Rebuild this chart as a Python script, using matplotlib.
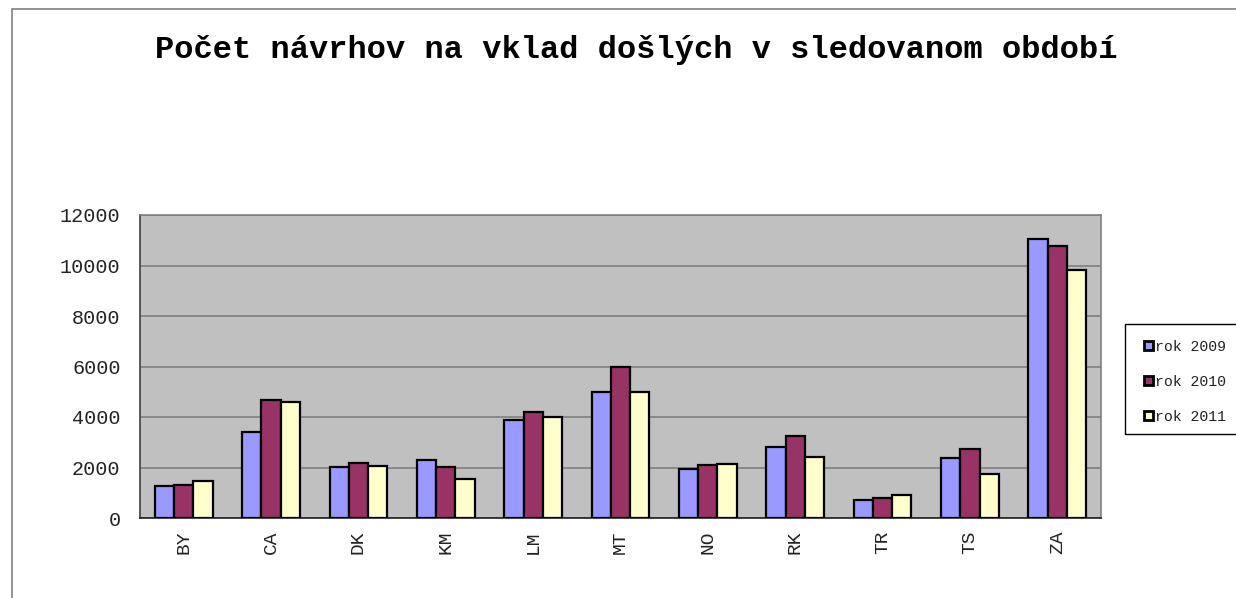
import matplotlib.pyplot as plt
import numpy as np
from matplotlib.patches import Rectangle, Patch

# Údaje z grafu
okresy = ['BY', 'CA', 'DK', 'KM', 'LM', 'MT', 'NO', 'RK', 'TR', 'TS', 'ZA']
rok_2009 = [1257, 3398, 2038, 2300, 3862, 4996, 1931, 2803, 702, 2395, 11063]
rok_2010 = [1297, 4655, 2169, 2010, 4203, 5963, 2117, 3251, 781, 2736, 10785]
rok_2011 = [1467, 4600, 2077, 1534, 4005, 4984, 2141, 2434, 900, 1760, 9810]
nazvy = ['rok 2009', 'rok 2010', 'rok 2011']
farby = ['#9999FF', '#993366', '#FFFFCC']

font = 'Liberation Mono'

fig = plt.figure(figsize=(12.36, 5.98), dpi=100)
fig.patch.set_facecolor('white')

# vonkajší rámik grafu
fig.patches.append(Rectangle((12 / 1236, -0.1), 1.2, 1 - 9 / 598 + 0.1,
                             transform=fig.transFigure, fill=False,
                             edgecolor='#808080', linewidth=1.2))

ax = fig.add_axes([140 / 1236, 1 - 518 / 598, 961 / 1236, 303 / 598])
ax.set_facecolor('#C0C0C0')

x = np.arange(len(okresy))
sirka = 0.22
for i, hodnoty in enumerate([rok_2009, rok_2010, rok_2011]):
    ax.bar(x + (i - 1) * sirka, hodnoty, sirka, color=farby[i],
           edgecolor='black', linewidth=1.6, zorder=3)

ax.set_xlim(-0.5, len(okresy) - 0.5)
ax.set_ylim(0, 12000)
ax.set_yticks(range(0, 12001, 2000))
ax.yaxis.grid(True, color='#808080', linewidth=1.2, zorder=1)
ax.set_axisbelow(True)
ax.set_xticks(x)
ax.set_xticklabels(okresy, rotation=90, fontfamily=font, fontsize=14, color='#222222')
for lab in ax.get_yticklabels():
    lab.set_fontfamily(font)
    lab.set_fontsize(14.5)
    lab.set_color('#222222')
ax.tick_params(axis='y', length=0, pad=14)
ax.tick_params(axis='x', length=0, pad=9)

for s in ['top', 'right']:
    ax.spines[s].set_color('#808080')
    ax.spines[s].set_linewidth(1.2)
ax.spines['left'].set_color('#404040')
ax.spines['bottom'].set_color('#202020')
ax.spines['left'].set_linewidth(1.2)
ax.spines['bottom'].set_linewidth(1.2)

fig.text(636 / 1236, 1 - 50 / 598, 'Počet návrhov na vklad došlých v sledovanom období',
         ha='center', va='center', fontfamily=font, fontweight='bold', fontsize=23)

# legenda
fig.patches.append(Rectangle((1125 / 1236, 1 - 434 / 598), 0.2, 110 / 598,
                             transform=fig.transFigure, fill=False,
                             edgecolor='black', linewidth=1))
handles = [Patch(facecolor=f, edgecolor='black', linewidth=2) for f in farby]
leg = fig.legend(handles, nazvy, loc='upper left',
                 bbox_to_anchor=(1138 / 1236, 1 - 334 / 598),
                 frameon=False, prop={'family': font, 'size': 10.7},
                 handlelength=0.6, handleheight=0.6, handletextpad=0.15,
                 labelspacing=1.4, borderaxespad=0)
for t in leg.get_texts():
    t.set_color('#222222')

fig.savefig('out.png', dpi=100)
